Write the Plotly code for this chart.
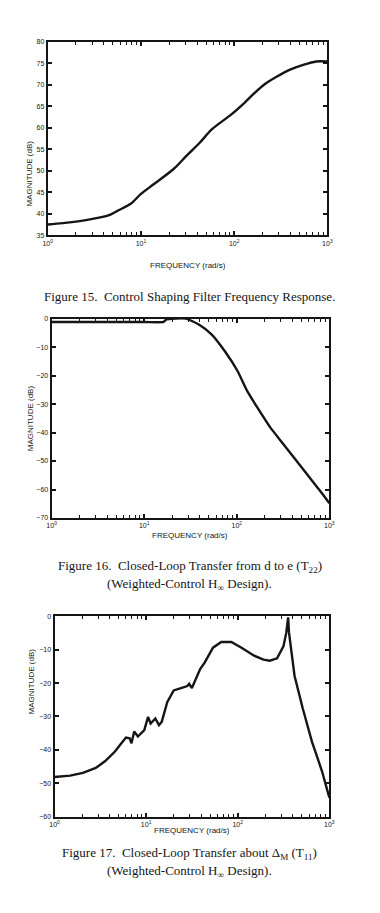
import plotly.graph_objects as go

# ---------------- data ----------------
f15_freq = [1.0, 1.45, 2.57, 4.47, 5.75, 7.76, 10, 13.8, 22.4, 30.9, 42.7, 57.5, 93.3,
            129, 166, 209, 288, 398, 550, 759, 1000]
f15_mag = [37.5, 37.8, 38.5, 39.6, 40.8, 42.3, 44.6, 46.9, 50.4, 53.5, 56.5, 59.6, 63.1,
           65.8, 68.1, 70.0, 71.9, 73.5, 74.6, 75.4, 75.4]

f16_freq = [1.0, 4.0, 10.0, 16.2, 17.4, 28.2, 38.9, 53.7, 74.1, 102, 129, 166, 229, 316,
            437, 603, 832, 1000]
f16_mag = [-1.2, -1.2, -1.2, -1.2, -0.3, 0.0, -2.1, -5.6, -11.4, -18.4, -25.3, -31.1,
           -38.1, -43.9, -49.7, -55.5, -61.3, -64.8]

f17_freq = [1.0, 1.48, 2.04, 2.82, 3.55, 4.57, 5.37, 6.03, 6.61, 6.92, 7.41, 8.13, 9.55,
            10.5, 11.2, 12.6, 13.8, 14.8, 17.0, 20.0, 24.0, 28.2, 29.5, 31.6, 38.9, 43.7,
            53.7, 66.1, 85.1, 110, 151, 191, 224, 269, 316, 339, 355, 363, 417, 513, 646,
            832, 1000]
f17_mag = [-48.1, -47.7, -46.9, -45.4, -43.4, -40.5, -38.0, -36.3, -36.5, -38.0, -34.5,
           -36.0, -34.1, -30.1, -32.1, -30.6, -32.6, -31.6, -25.7, -22.2, -21.5, -20.9,
           -20.2, -21.5, -15.8, -13.8, -9.4, -7.7, -7.7, -9.4, -11.8, -13.0, -13.3, -12.6,
           -8.9, -4.9, -0.3, -4.9, -17.8, -27.6, -37.5, -46.4, -54.3]

x_tickvals = [1, 10, 100, 1000]
x_ticktext = ["10<sup>0</sup>", "10<sup>1</sup>", "10<sup>2</sup>", "10<sup>3</sup>"]
x_minor_vals = [2, 3, 4, 5, 6, 7, 8, 9, 20, 30, 40, 50, 60, 70, 80, 90,
                200, 300, 400, 500, 600, 700, 800, 900]

captions = [
    ["Figure 15.  Control Shaping Filter Frequency Response."],
    ["Figure 16.  Closed-Loop Transfer from d to e (T<sub>22</sub>)",
     "(Weighted-Control H<sub>∞</sub> Design)."],
    ["Figure 17.  Closed-Loop Transfer about Δ<sub>M</sub> (T<sub>11</sub>)",
     "(Weighted-Control H<sub>∞</sub> Design)."],
]

W, H = 380, 913
INK = "#151515"

# panel pixel boxes: left, right, top, bottom
panels = [
    dict(box=(44, 332, 38, 233), x=f15_freq, y=f15_mag, yr=(35, 80), dt=5,
         xlab_y=257, ylab_x=18, cap_y=[285], shape="spline", sm=0.8),
    dict(box=(48, 334, 317, 518), x=f16_freq, y=f16_mag, yr=(-70, 0), dt=10,
         xlab_y=536, ylab_x=19, cap_y=[567, 585], shape="spline", sm=0.5),
    dict(box=(51, 334, 617, 819), x=f17_freq, y=f17_mag, yr=(-60, 0), dt=10,
         xlab_y=839, ylab_x=21, cap_y=[867, 885], shape="linear", sm=None),
]

fig = go.Figure()
layout = dict(width=W, height=H, margin=dict(l=0, r=0, t=0, b=0),
              paper_bgcolor="white", plot_bgcolor="white", showlegend=False)
annotations = []

for i, p in enumerate(panels):
    n = "" if i == 0 else str(i + 1)
    l, r, t, b = p["box"]
    line = dict(color=INK, width=2.4, shape=p["shape"])
    if p["sm"] is not None:
        line["smoothing"] = p["sm"]
    fig.add_trace(go.Scatter(x=p["x"], y=p["y"], mode="lines", line=line,
                             xaxis="x" + n, yaxis="y" + n))
    layout["xaxis" + n] = dict(
        type="log", domain=[l / W, r / W], range=[0, 3], anchor="y" + n,
        showgrid=False, zeroline=False, showline=True, linecolor=INK, linewidth=2,
        mirror="ticks", ticks="inside", ticklen=4, tickwidth=1.5, tickcolor=INK,
        tickvals=x_tickvals, ticktext=x_ticktext,
        tickfont=dict(family="Liberation Sans", size=7, color=INK),
        minor=dict(tickmode="array", tickvals=x_minor_vals, ticks="inside", ticklen=3,
                   tickwidth=1.2, tickcolor=INK, showgrid=False),
    )
    layout["yaxis" + n] = dict(
        domain=[1 - b / H, 1 - t / H], range=list(p["yr"]), dtick=p["dt"], anchor="x" + n,
        showgrid=False, zeroline=False, showline=True, linecolor=INK, linewidth=2,
        mirror="ticks", ticks="inside", ticklen=4, tickwidth=1.5, tickcolor=INK,
        tickfont=dict(family="Liberation Sans", size=7, color=INK),
    )
    annotations.append(dict(text="FREQUENCY (rad/s)", x=(l + r) / 2 / W, y=1 - p["xlab_y"] / H,
                            xref="paper", yref="paper", showarrow=False,
                            font=dict(family="Liberation Sans", size=8, color=INK)))
    annotations.append(dict(text="MAGNITUDE (dB)", x=p["ylab_x"] / W, y=1 - (t + b) / 2 / H,
                            xref="paper", yref="paper", showarrow=False, textangle=-90,
                            font=dict(family="Liberation Sans", size=8, color=INK)))
    for txt, cy in zip(captions[i], p["cap_y"]):
        annotations.append(dict(text=txt, x=0.5, y=1 - cy / H, xref="paper", yref="paper",
                                showarrow=False,
                                font=dict(family="Liberation Serif", size=13, color=INK)))

layout["annotations"] = annotations
fig.update_layout(**layout)
fig.write_html("out.html")
